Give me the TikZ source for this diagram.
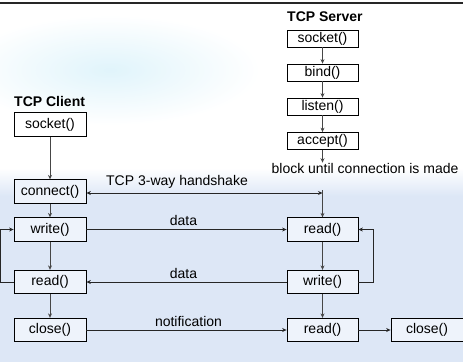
\documentclass[tikz,border=0pt]{standalone}
\usepackage{fontspec}
\setmainfont{Liberation Sans}
\usetikzlibrary{arrows.meta}
\definecolor{bluebg}{RGB}{221,231,246}
\definecolor{boxfill}{RGB}{238,243,251}
\definecolor{glow}{RGB}{224,244,251}
\definecolor{linegray}{RGB}{70,70,70}
\begin{document}
\begin{tikzpicture}[x=1bp,y=-1bp,
  font=\fontsize{14bp}{16bp}\selectfont,
  fnbox/.style={draw=black,line width=0.8bp,fill=boxfill,minimum width=72bp,minimum height=23.5bp,inner sep=0pt},
  topbox/.style={draw=black,line width=0.8bp,fill=white,minimum width=71bp,minimum height=17bp,inner sep=0pt},
  title/.style={font=\fontsize{14bp}{16bp}\selectfont\bfseries,inner sep=0pt,anchor=west},
  lbl/.style={inner sep=0pt},
  conn/.style={draw=linegray,line width=0.9bp,-{Stealth[length=4.5bp,width=4bp]}},
  hconn/.style={draw=black!85,line width=0.8bp,-{Stealth[length=4.5bp,width=4bp]}}]
\useasboundingbox (0,0) rectangle (463,362);
% background
\fill[white] (0,0) rectangle (463,362);
\shade[inner color=glow,outer color=white] (110,70) ellipse (150 and 55);
\shade[top color=white,bottom color=bluebg] (0,168) rectangle (463,196);
\fill[bluebg] (0,196) rectangle (463,362);
\draw[black!85,line width=1.4bp] (0,3) -- (463,3);
% titles
\node[title] (tserver) at (287,17) {TCP Server};
\node[title] (tclient) at (14,101) {TCP Client};
% server column
\node[topbox] (ssocket) at (322.5,38.5) {socket()};
\node[topbox] (sbind) at (322.5,72.5) {bind()};
\node[topbox] (slisten) at (322.5,106.5) {listen()};
\node[topbox] (saccept) at (322.5,141) {accept()};
\node[lbl] (block) at (365,168) {block until connection is made};
% client column
\node[fnbox,fill=white] (csocket) at (50,124.5) {socket()};
\node[fnbox] (cconnect) at (50,191.5) {connect()};
\node[fnbox] (cwrite) at (50,229.5) {write()};
\node[fnbox] (cread) at (50,282) {read()};
\node[fnbox] (cclose) at (50,330) {close()};
% server lower
\node[fnbox,minimum width=71bp] (sread) at (322.5,229.5) {read()};
\node[fnbox,minimum width=71bp] (swrite) at (322.5,282) {write()};
\node[fnbox,minimum width=71bp] (sread2) at (322.5,330) {read()};
\node[fnbox] (sclose) at (427,330) {close()};
% labels
\node[lbl] (hs) at (177,182) {TCP 3-way handshake};
\node[lbl] (d1) at (183.5,220) {data};
\node[lbl] (d2) at (183.5,273) {data};
\node[lbl] (nt) at (188.5,321) {notification};
\coordinate (hsend) at (322.5,193);
\coordinate (hstop) at (322.5,190);
% vertical connectors
\draw[conn] (ssocket) -- (sbind);
\draw[conn] (sbind) -- (slisten);
\draw[conn] (slisten) -- (saccept);
\draw[conn] (saccept) -- (block.north -| saccept.south);
\draw[conn] (hstop) -- (sread);
\draw[conn] (sread) -- (swrite);
\draw[conn] (swrite) -- (sread2);
\draw[conn] (csocket) -- (cconnect);
\draw[conn] (cconnect) -- (cwrite);
\draw[conn] (cwrite) -- (cread);
\draw[conn] (cread) -- (cclose);
% horizontal connectors
\draw[hconn,{Stealth[length=4.5bp,width=4bp]}-{Stealth[length=4.5bp,width=4bp]}] (cconnect.east |- hsend) -- (hsend);
\draw[hconn] (cwrite) -- (sread);
\draw[hconn] (swrite) -- (cread);
\draw[hconn] (cclose) -- (sread2);
\draw[hconn] (sread2) -- (sclose);
% loops
\draw[hconn] (cread.west) -- ++(-13,0) |- (cwrite.west);
\draw[hconn] (swrite.east) -- ++(15,0) |- (sread.east);
\end{tikzpicture}
\end{document}
